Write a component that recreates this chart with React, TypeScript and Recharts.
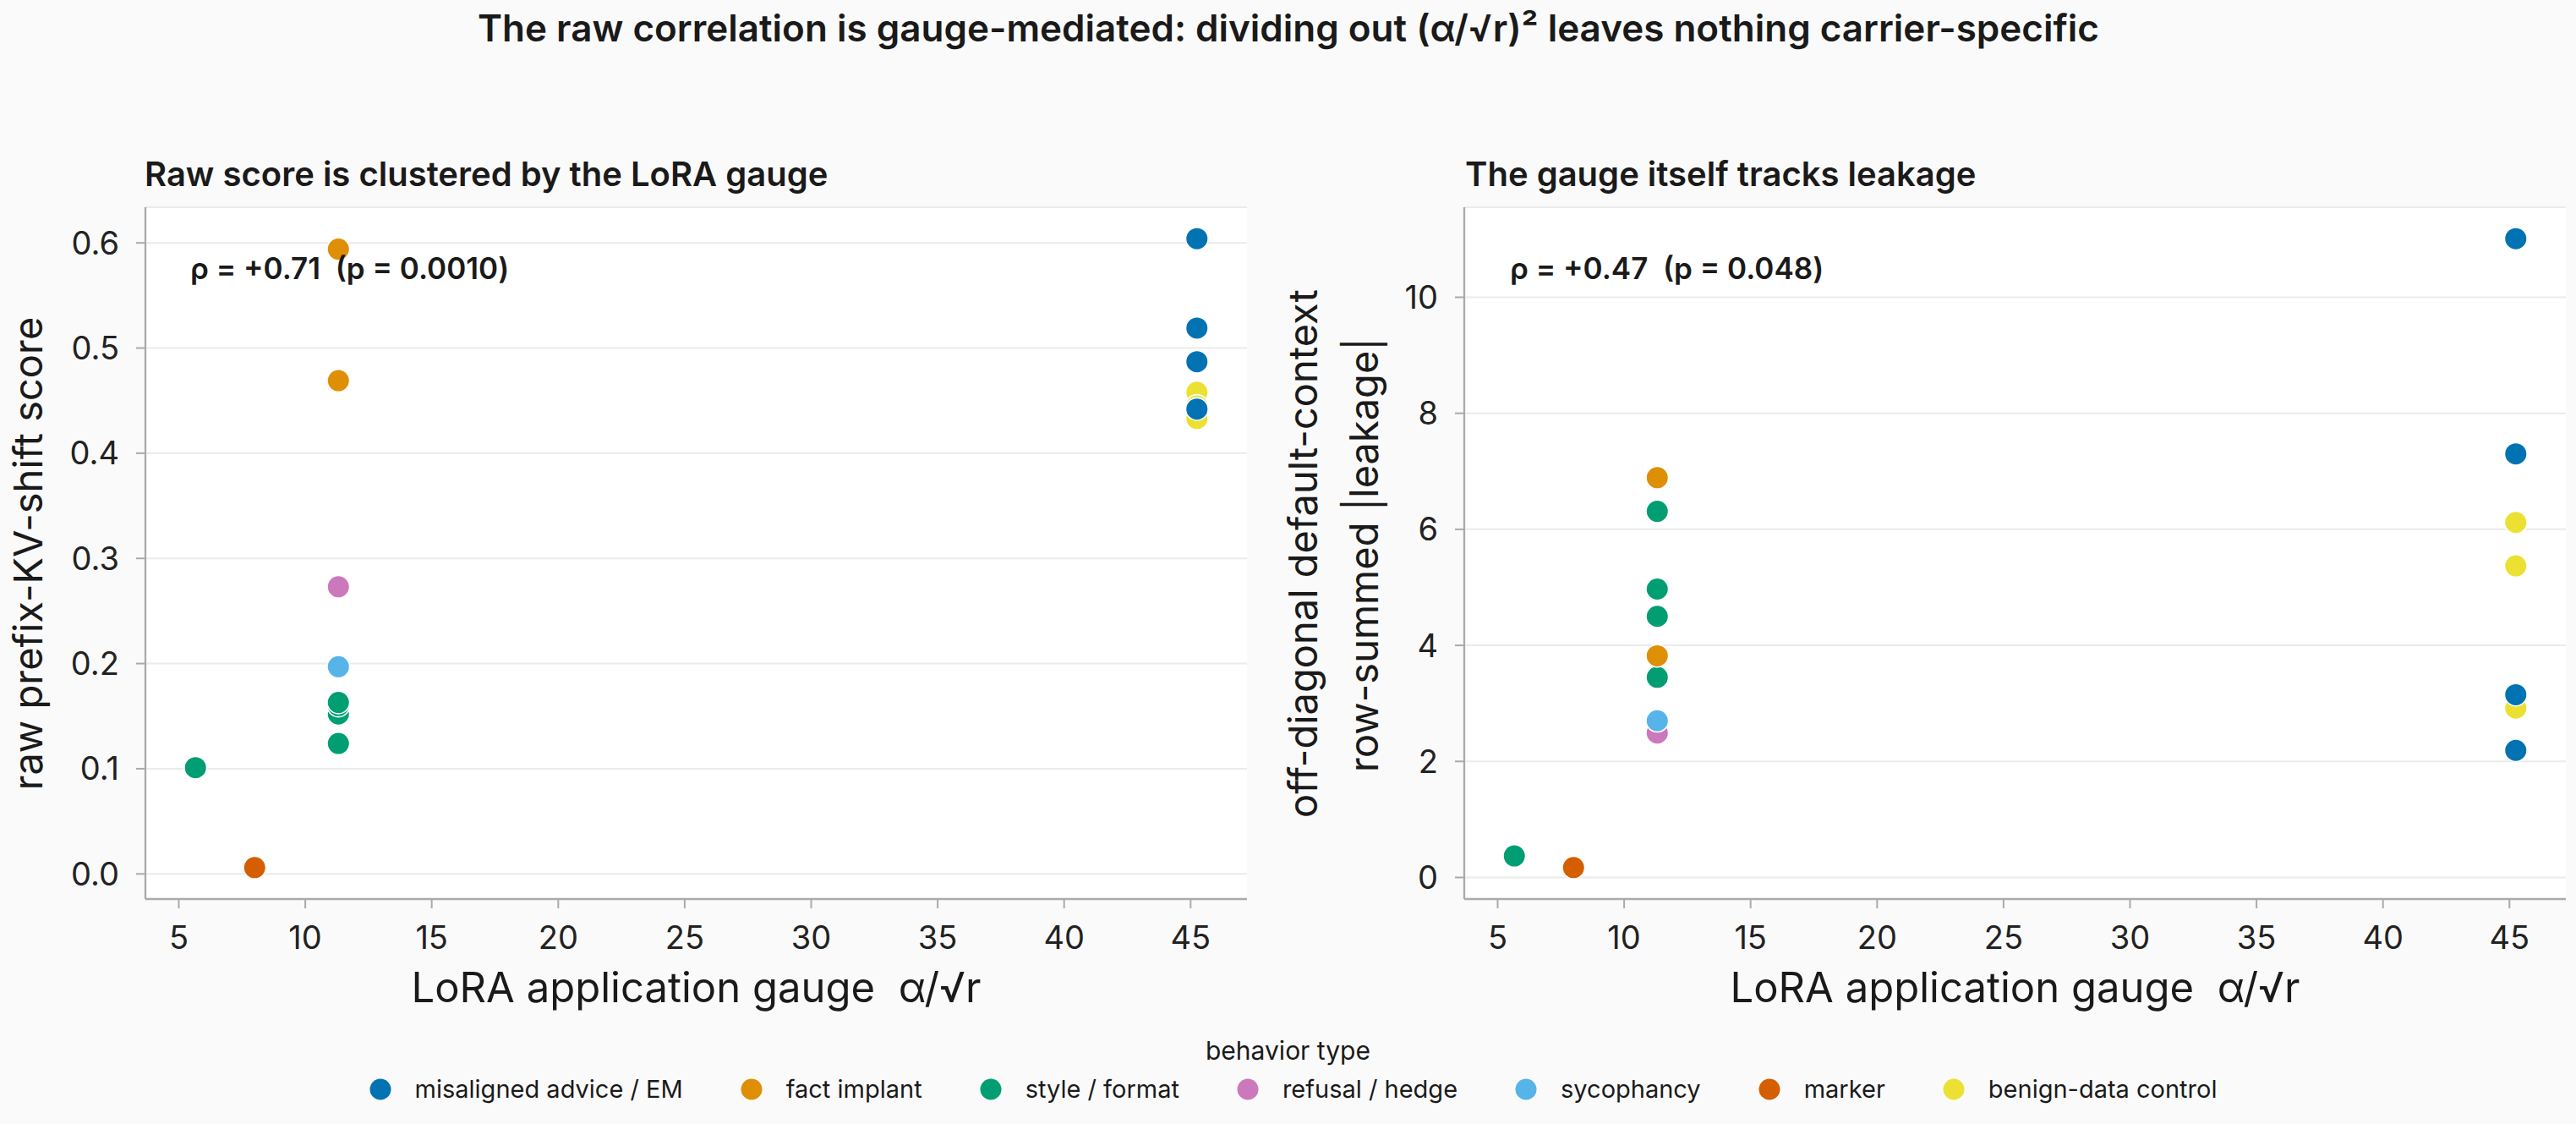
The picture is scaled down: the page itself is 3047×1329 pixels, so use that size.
import React from "react";
import { ScatterChart, Scatter, XAxis, YAxis, CartesianGrid } from "recharts";

// behaviour categories (legend order) and their colours
const behaviors = [
  "misaligned advice / EM",
  "fact implant",
  "style / format",
  "refusal / hedge",
  "sycophancy",
  "marker",
  "benign-data control",
];
const palette = ["#0173B2", "#DE8F05", "#029E73", "#CC78BC", "#56B4E9", "#D55E00", "#ECE133"];

// per adapter: gauge α/√r, raw prefix-KV-shift score, row-summed |leakage|
const misalignedGauge = [45.25, 45.25, 45.25, 45.25];
const misalignedRaw = [0.604, 0.519, 0.487, 0.442];
const misalignedLeak = [11.01, 7.3, 3.15, 2.19];

const factGauge = [11.31, 11.31];
const factRaw = [0.594, 0.469];
const factLeak = [6.89, 3.82];

const styleGauge = [5.66, 11.31, 11.31, 11.31, 11.31];
const styleRaw = [0.101, 0.124, 0.152, 0.16, 0.163];
const styleLeak = [0.37, 6.31, 4.97, 4.5, 3.45];

const refusalGauge = [11.31];
const refusalRaw = [0.273];
const refusalLeak = [2.49];

const sycophancyGauge = [11.31];
const sycophancyRaw = [0.197];
const sycophancyLeak = [2.7];

const markerGauge = [8.0];
const markerRaw = [0.006];
const markerLeak = [0.17];

const benignGauge = [45.25, 45.25, 45.25];
const benignRaw = [0.458, 0.445, 0.433];
const benignLeak = [6.12, 5.37, 2.92];

const xTicks = [5, 10, 15, 20, 25, 30, 35, 40, 45];
const rawTicks = [0, 0.1, 0.2, 0.3, 0.4, 0.5, 0.6];
const leakTicks = [0, 2, 4, 6, 8, 10];

type Series = { name: string; gauge: number[]; raw: number[]; leak: number[] };

const seriesByName: Record<string, Series> = {
  "misaligned advice / EM": { name: "misaligned advice / EM", gauge: misalignedGauge, raw: misalignedRaw, leak: misalignedLeak },
  "fact implant": { name: "fact implant", gauge: factGauge, raw: factRaw, leak: factLeak },
  "style / format": { name: "style / format", gauge: styleGauge, raw: styleRaw, leak: styleLeak },
  "refusal / hedge": { name: "refusal / hedge", gauge: refusalGauge, raw: refusalRaw, leak: refusalLeak },
  sycophancy: { name: "sycophancy", gauge: sycophancyGauge, raw: sycophancyRaw, leak: sycophancyLeak },
  marker: { name: "marker", gauge: markerGauge, raw: markerRaw, leak: markerLeak },
  "benign-data control": { name: "benign-data control", gauge: benignGauge, raw: benignRaw, leak: benignLeak },
};

// paint order (later ones sit on top where points overlap)
const drawOrder = [
  "benign-data control",
  "marker",
  "refusal / hedge",
  "sycophancy",
  "style / format",
  "fact implant",
  "misaligned advice / EM",
];

const colorOf = (name: string) => palette[behaviors.indexOf(name)];

// 5% padding around the data, like matplotlib's autoscale margins
function padded(values: number[]): [number, number] {
  const lo = Math.min(...values);
  const hi = Math.max(...values);
  const m = (hi - lo) * 0.05;
  return [lo - m, hi + m];
}

const all = Object.values(seriesByName);
const xDomain = padded(all.flatMap((s) => s.gauge));
const rawDomain = padded(all.flatMap((s) => s.raw));
const leakDomain = padded(all.flatMap((s) => s.leak));

const FONT = "Inter, 'Noto Sans', sans-serif";
const PAGE_W = 3047;
const PAGE_H = 1329;
const CHART_H = 1170;
const PLOT_TOP = 245;
const PLOT_BOTTOM = 1063;
const SPINE = "#AAAAAA";
const INK = "#1A1A1A";

const dot = (color: string) => (props: any) =>
  <circle cx={props.cx} cy={props.cy} r={13.3} fill={color} stroke="#FFFFFF" strokeWidth={1.6} />;

type PanelProps = {
  left: number;
  width: number;
  axisWidth: number;
  rightMargin: number;
  metric: "raw" | "leak";
  domain: [number, number];
  ticks: number[];
  fmt: (v: number) => string;
};

function Panel({ left, width, axisWidth, rightMargin, metric, domain, ticks, fmt }: PanelProps) {
  const tickFont = { fontSize: 38, fill: "#222222", fontFamily: FONT };
  return (
    <div style={{ position: "absolute", left, top: 0 }}>
      <ScatterChart
        width={width}
        height={CHART_H}
        margin={{ top: PLOT_TOP, right: rightMargin, bottom: 0, left: 0 }}
      >
        <CartesianGrid vertical={false} stroke="#EBEBEB" strokeWidth={2} fill="#FFFFFF" />
        <XAxis
          type="number"
          dataKey="x"
          domain={xDomain}
          ticks={xTicks}
          allowDataOverflow
          interval={0}
          height={CHART_H - PLOT_BOTTOM}
          tickSize={11}
          tickMargin={21}
          axisLine={{ stroke: SPINE, strokeWidth: 2.3 }}
          tickLine={{ stroke: SPINE, strokeWidth: 2 }}
          tick={tickFont}
        />
        <YAxis
          type="number"
          dataKey="y"
          domain={domain}
          ticks={ticks}
          allowDataOverflow
          interval={0}
          width={axisWidth}
          tickSize={11}
          tickMargin={20}
          tickFormatter={fmt}
          axisLine={{ stroke: SPINE, strokeWidth: 2.3 }}
          tickLine={{ stroke: SPINE, strokeWidth: 2 }}
          tick={tickFont}
        />
        {drawOrder.map((name) => {
          const s = seriesByName[name];
          const data = s.gauge.map((x, i) => ({ x, y: s[metric][i] }));
          return (
            <Scatter
              key={name}
              name={name}
              data={data}
              fill={colorOf(name)}
              shape={dot(colorOf(name))}
              isAnimationActive={false}
            />
          );
        })}
      </ScatterChart>
    </div>
  );
}

function Legend() {
  return (
    <div
      style={{
        position: "absolute",
        left: 0,
        top: 1222,
        width: PAGE_W,
        fontFamily: FONT,
        color: INK,
        textAlign: "center",
      }}
    >
      <div style={{ fontSize: 30, lineHeight: "40px" }}>behavior type</div>
      <div
        style={{
          display: "flex",
          justifyContent: "center",
          gap: 68,
          marginTop: 6,
          paddingLeft: 12,
        }}
      >
        {behaviors.map((b, i) => (
          <div key={b} style={{ display: "flex", alignItems: "center", fontSize: 29, lineHeight: "40px" }}>
            <svg width={26} height={26} style={{ marginRight: 28 }}>
              <circle cx={13} cy={13} r={12.5} fill={palette[i]} />
            </svg>
            <span>{b}</span>
          </div>
        ))}
      </div>
    </div>
  );
}

export default function App() {
  const pre = { whiteSpace: "pre" as const };
  return (
    <div
      style={{
        position: "absolute",
        left: 0,
        top: 0,
        width: PAGE_W,
        height: PAGE_H,
        background: "#FAFAFA",
        overflow: "hidden",
      }}
    >
      <Panel
        left={0}
        width={1500}
        axisWidth={172}
        rightMargin={25}
        metric="raw"
        domain={rawDomain}
        ticks={rawTicks}
        fmt={(v) => v.toFixed(1)}
      />
      <Panel
        left={1500}
        width={1547}
        axisWidth={232}
        rightMargin={12}
        metric="leak"
        domain={leakDomain}
        ticks={leakTicks}
        fmt={(v) => String(v)}
      />
      <svg
        width={PAGE_W}
        height={PAGE_H}
        style={{ position: "absolute", left: 0, top: 0, pointerEvents: "none" }}
        fontFamily={FONT}
        fill={INK}
      >
        <text x={1524} y={49} textAnchor="middle" fontSize={44} fontWeight={600}>
          The raw correlation is gauge-mediated: dividing out (α/√r)² leaves nothing carrier-specific
        </text>

        <text x={171} y={220} fontSize={40} fontWeight={600}>
          Raw score is clustered by the LoRA gauge
        </text>
        <text x={1733} y={220} fontSize={40} fontWeight={600}>
          The gauge itself tracks leakage
        </text>

        <text x={225} y={330} fontSize={35} fontWeight={600} style={pre}>
          ρ = +0.71  (p = 0.0010)
        </text>
        <text x={1786} y={330} fontSize={35} fontWeight={600} style={pre}>
          ρ = +0.47  (p = 0.048)
        </text>

        <text x={823.5} y={1185} textAnchor="middle" fontSize={49} style={pre}>
          LoRA application gauge  α/√r
        </text>
        <text x={2383.5} y={1185} textAnchor="middle" fontSize={49} style={pre}>
          LoRA application gauge  α/√r
        </text>

        <text x={50} y={654.5} textAnchor="middle" fontSize={47} transform="rotate(-90 50 654.5)">
          raw prefix-KV-shift score
        </text>
        <text x={1558} y={654.5} textAnchor="middle" fontSize={47} transform="rotate(-90 1558 654.5)">
          off-diagonal default-context
        </text>
        <text x={1630} y={656} textAnchor="middle" fontSize={47} transform="rotate(-90 1630 656)">
          row-summed |leakage|
        </text>
      </svg>
      <Legend />
    </div>
  );
}
